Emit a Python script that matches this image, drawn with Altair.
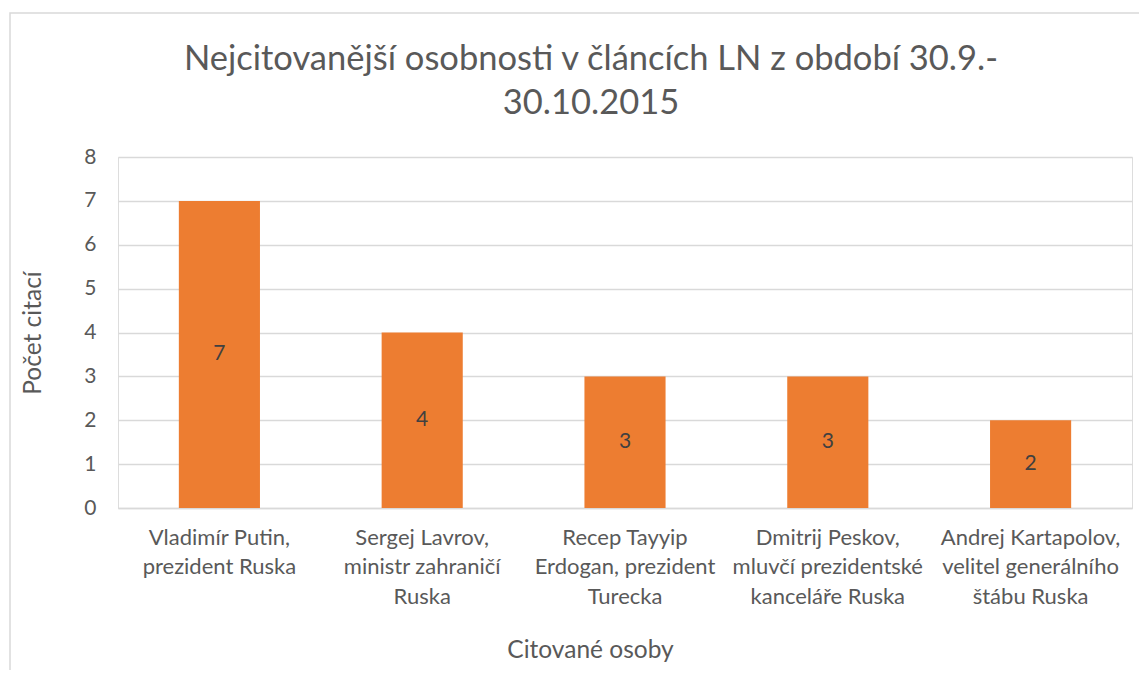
import altair as alt
import pandas as pd

categories = [
    "Vladimír Putin,|prezident Ruska",
    "Sergej Lavrov,|ministr zahraničí|Ruska",
    "Recep Tayyip|Erdogan, prezident|Turecka",
    "Dmitrij Peskov,|mluvčí prezidentské|kanceláře Ruska",
    "Andrej Kartapolov,|velitel generálního|štábu Ruska",
]
values = [7, 4, 3, 3, 2]
y_ticks = [0, 1, 2, 3, 4, 5, 6, 7, 8]
title_lines = ["Nejcitovanější osobnosti v článcích LN z období 30.9.-", "30.10.2015"]
x_title = "Citované osoby"
y_title = "Počet citací"

df = pd.DataFrame({"osoba": categories, "pocet": values})

TEXT = "#595959"
GRID = "#D9D9D9"
BAR = "#ED7D31"

x_enc = alt.X(
    "osoba:N",
    sort=categories,
    scale=alt.Scale(paddingInner=0.6, paddingOuter=0.3),
    axis=alt.Axis(
        title=x_title,
        labelExpr="split(datum.label, '|')",
        labelAngle=0,
        labelFontSize=22,
        labelLineHeight=29.5,
        labelPadding=19,
        labelLimit=400,
        labelColor=TEXT,
        labelFont="Lato",
        domainColor=GRID,
        domainWidth=1.5,
        ticks=False,
        grid=False,
        titleFont="Lato",
        titleFontSize=24.5,
        titleFontWeight="normal",
        titleColor=TEXT,
        titleX=472,
        titleY=142,
        titleBaseline="middle",
        titleAlign="center",
    ),
)

y_enc = alt.Y(
    "pocet:Q",
    scale=alt.Scale(domain=[0, 8], nice=False),
    axis=alt.Axis(
        title=y_title,
        values=y_ticks,
        labelFontSize=21,
        labelColor=TEXT,
        labelFont="Lato",
        labelPadding=22,
        domain=False,
        ticks=False,
        grid=True,
        gridColor=GRID,
        gridWidth=1.5,
        titleFont="Lato",
        titleFontSize=24.5,
        titleFontWeight="normal",
        titleColor=TEXT,
        titleX=-85,
        titleY=175.5,
        titleAngle=-90,
        titleBaseline="middle",
        titleAlign="center",
    ),
)

bars = alt.Chart(df).mark_bar(color=BAR).encode(x=x_enc, y=y_enc)

labels = (
    alt.Chart(df)
    .transform_calculate(mid="datum.pocet / 2")
    .mark_text(font="Lato", fontSize=21, color="#404040", baseline="middle", align="center")
    .encode(x=alt.X("osoba:N", sort=categories), y=alt.Y("mid:Q"), text=alt.Text("pocet:Q"))
)

border = (
    alt.Chart(pd.DataFrame({"a": [0]}))
    .mark_rect(fillOpacity=0, stroke=GRID, strokeWidth=1.5)
    .encode(x=alt.value(-108), x2=alt.value(1200), y=alt.value(-144), y2=alt.value(700))
)

title = (
    alt.Chart(pd.DataFrame({"a": [0]}))
    .mark_text(
        text=title_lines,
        font="Lato",
        fontSize=34.5,
        fontWeight="normal",
        color=TEXT,
        align="center",
        baseline="alphabetic",
        lineHeight=43.5,
    )
    .encode(x=alt.value(473), y=alt.value(-87))
)

chart = (
    alt.layer(border, bars, labels, title)
    .properties(
        width=1014,
        height=351,
        padding={"left": 110, "top": 149, "right": 7, "bottom": 162},
        autosize=alt.AutoSizeParams(type="none"),
    )
    .configure_view(stroke=None)
    .configure(background="white")
)

chart.save("out.html", embed_options={"renderer": "svg", "actions": False})
